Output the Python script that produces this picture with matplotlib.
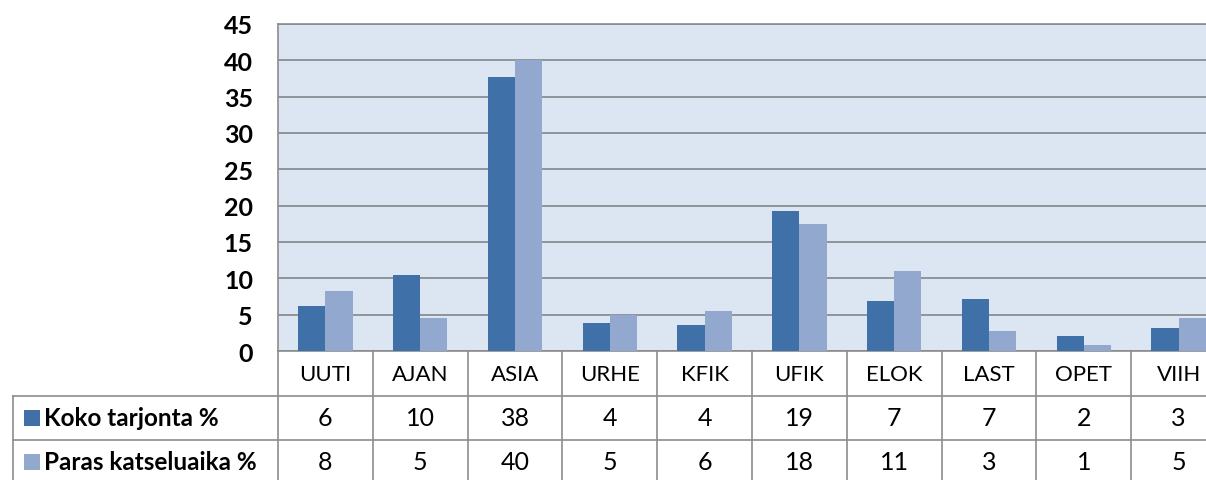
import matplotlib
matplotlib.use('Agg')
import matplotlib.pyplot as plt
from matplotlib.lines import Line2D
from matplotlib.patches import Rectangle
import matplotlib.transforms as mtransforms
import numpy as np

# data (bar heights, table shows rounded values)
categories = ['UUTI', 'AJAN', 'ASIA', 'URHE', 'KFIK', 'UFIK', 'ELOK', 'LAST', 'OPET', 'VIIH']
koko = [6.2, 10.4, 37.7, 3.9, 3.6, 19.2, 6.9, 7.2, 2.0, 3.1]
paras = [8.3, 4.5, 40.0, 4.9, 5.5, 17.5, 11.0, 2.7, 0.8, 4.5]
koko_table = [6, 10, 38, 4, 4, 19, 7, 7, 2, 3]
paras_table = [8, 5, 40, 5, 6, 18, 11, 3, 1, 5]
series_names = ['Koko tarjonta %', 'Paras katseluaika %']
yticks = list(range(0, 50, 5))

DARK = '#4070A8'
LIGHT = '#93A8CF'
BG = '#DCE6F2'
GRID = '#8A8E94'
LINE = '#8C8C8C'
FONT = 'Lato'

W, H = 1206, 481
fig = plt.figure(figsize=(W/100, H/100), dpi=100)
fig.patch.set_facecolor('white')

# plot area (runs a little past the right edge, like the reference)
left, right, top, bottom = 278, 1226, 25, 352
ax = fig.add_axes([left/W, 1-bottom/H, (right-left)/W, (bottom-top)/H])
ax.set_facecolor(BG)

x = np.arange(len(categories))
bw = 0.286
ax.bar(x - bw/2, koko, bw, color=DARK, zorder=3)
ax.bar(x + bw/2, paras, bw, color=LIGHT, zorder=3)

ax.set_xlim(-0.5, len(categories) - 0.5)
ax.set_ylim(0, 45)
ax.set_yticks(yticks)
ax.set_yticklabels([str(t) for t in yticks], fontsize=18, fontweight='bold', family=FONT)
ax.tick_params(axis='y', length=0, pad=18)
ax.set_xticks([])
ax.yaxis.grid(True, color=GRID, lw=1.3, zorder=1)
ax.set_axisbelow(True)
for s in ax.spines.values():
    s.set_color(LINE)
    s.set_linewidth(1.2)

# data table under the plot
tr = mtransforms.blended_transform_factory(ax.transData, fig.transFigure)
y_top = 1 - bottom/H
y_r1 = 1 - 397/H
y_r2 = 1 - 441/H
tbl_left = 13/W

for k in range(len(categories) + 1):
    fig.add_artist(Line2D([k - 0.5, k - 0.5], [y_top, 0], transform=tr, color=LINE, lw=1.2))
for yy in (y_r1, y_r2):
    fig.add_artist(Line2D([tbl_left, 1], [yy, yy], transform=fig.transFigure, color=LINE, lw=1.2))
fig.add_artist(Line2D([tbl_left, tbl_left], [y_r1, 0], transform=fig.transFigure, color=LINE, lw=1.2))

yc_head = 1 - 375/H
yc_r1 = 1 - 419/H
yc_r2 = 1 - 463/H
for i, cat in enumerate(categories):
    fig.text(i, yc_head, cat, transform=tr, ha='center', va='center', fontsize=16, family=FONT)
    fig.text(i, yc_r1, str(koko_table[i]), transform=tr, ha='center', va='center', fontsize=18, family=FONT)
    fig.text(i, yc_r2, str(paras_table[i]), transform=tr, ha='center', va='center', fontsize=18, family=FONT)

# legend keys in the table's first column
for yc, col, name in [(yc_r1, DARK, series_names[0]), (yc_r2, LIGHT, series_names[1])]:
    sq = 16
    fig.add_artist(Rectangle((24/W, yc - sq/2/H), sq/W, sq/H, transform=fig.transFigure,
                             facecolor=col, edgecolor='none'))
    fig.text(44/W, yc, name, ha='left', va='center', fontsize=17.5, fontweight='bold', family=FONT)

fig.savefig('out.png', dpi=100)
